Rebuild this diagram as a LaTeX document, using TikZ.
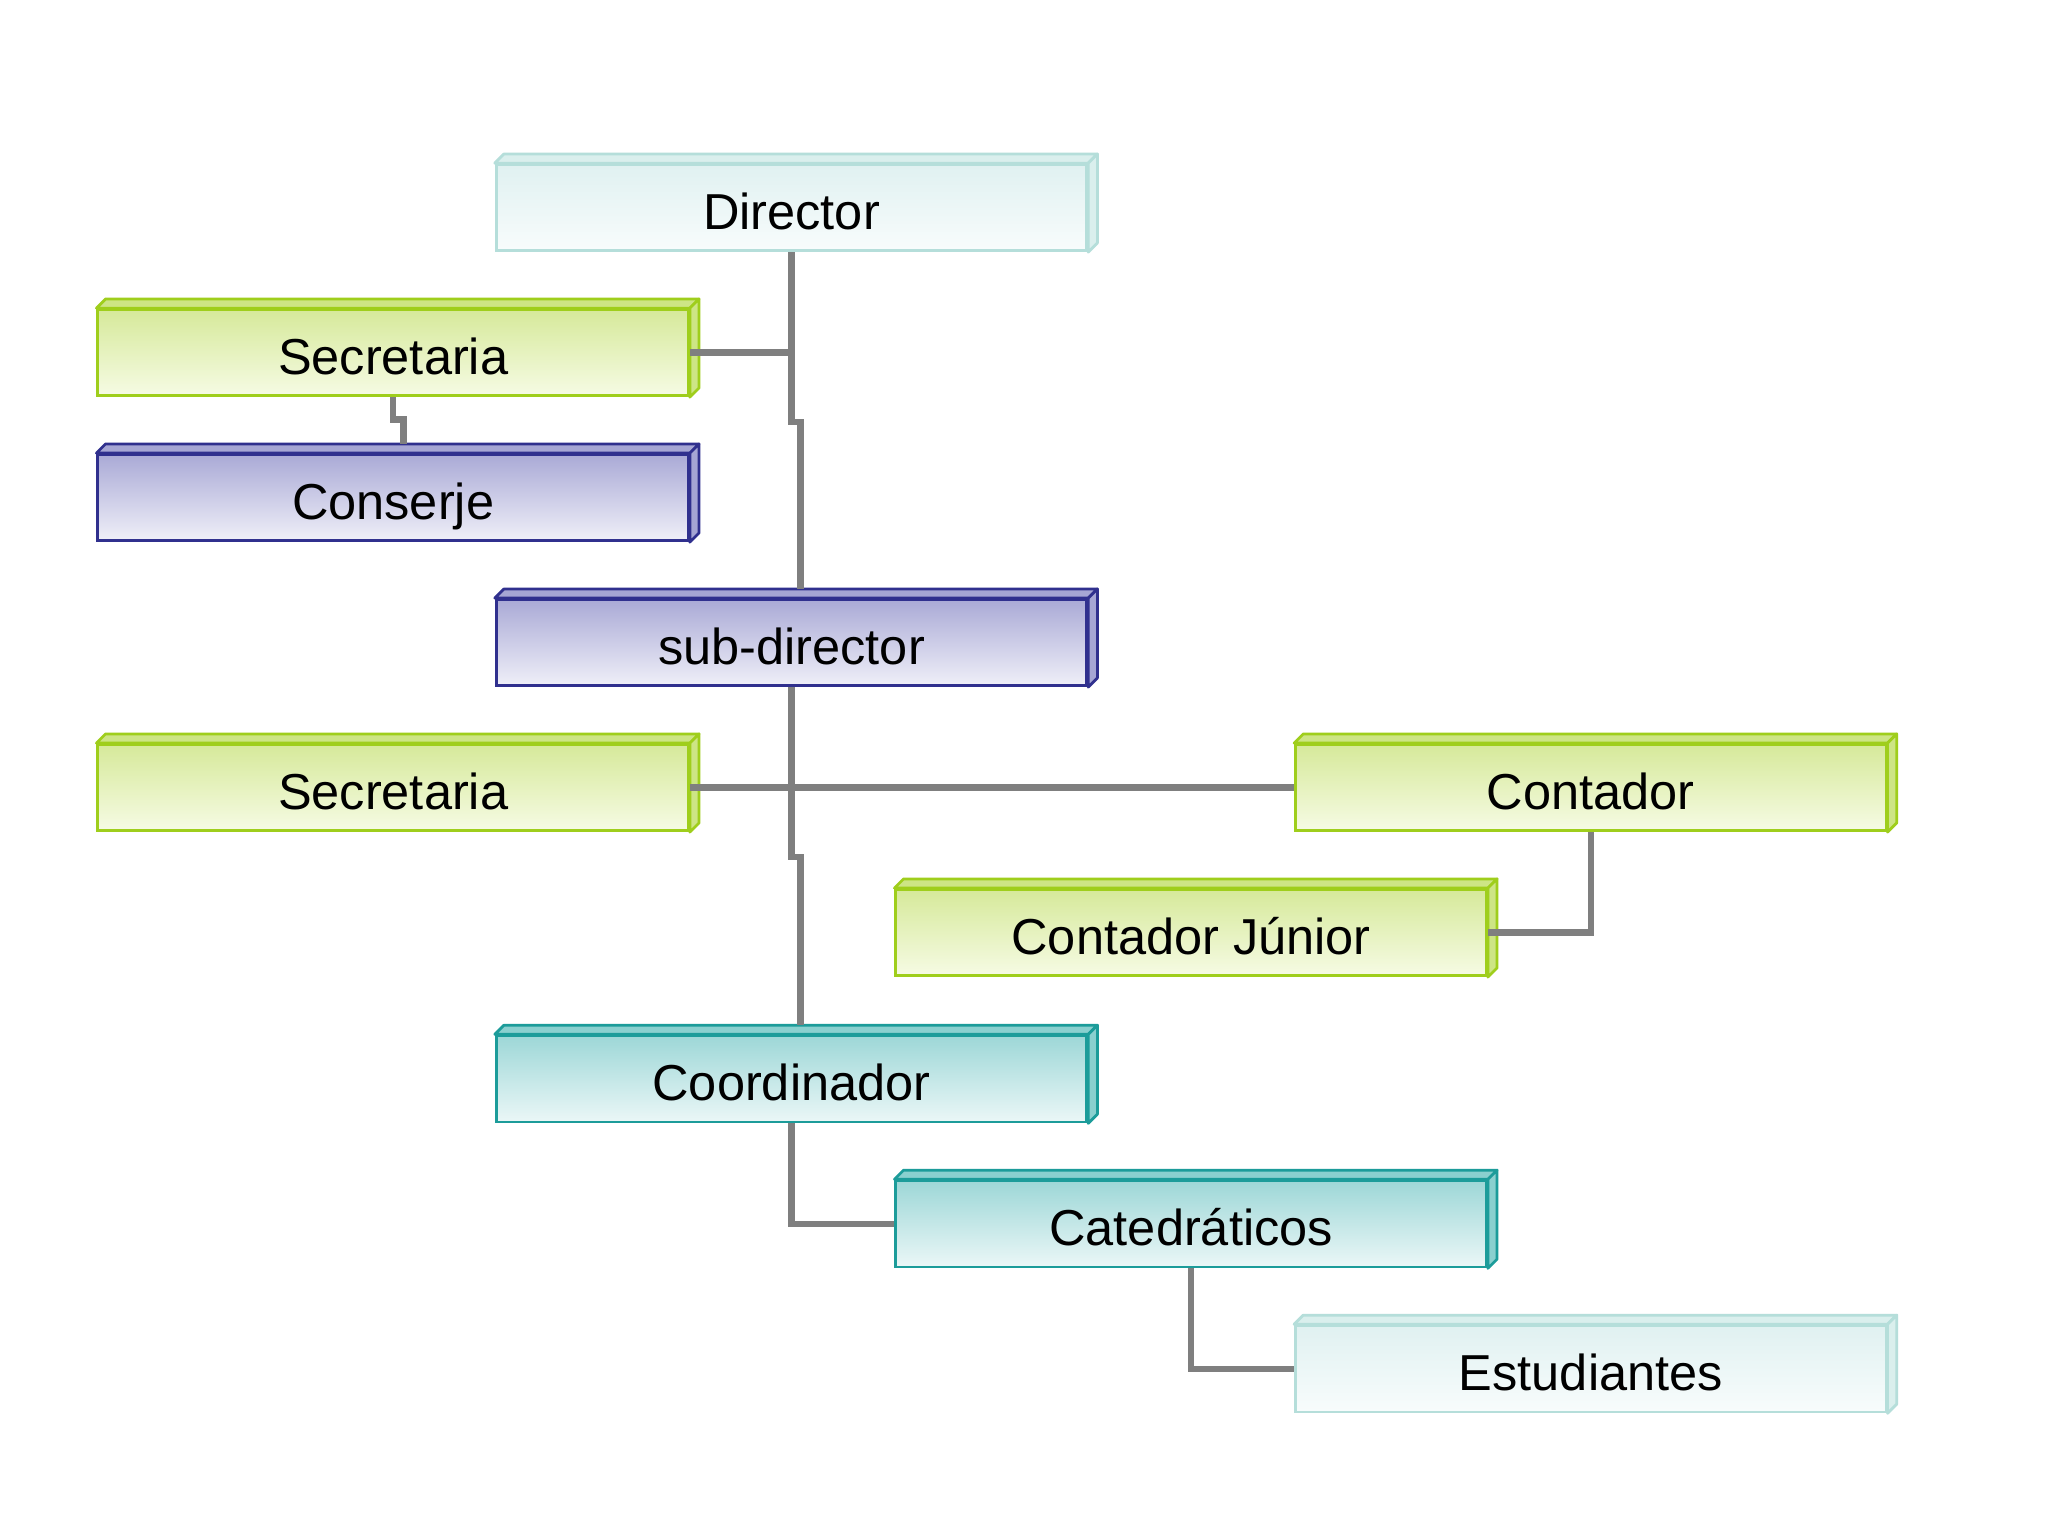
\documentclass[tikz,border=0pt]{standalone}
\usepackage{fontspec}
\setmainfont{Liberation Sans}
\usetikzlibrary{calc}
\definecolor{paleT}{HTML}{E0F1F1}
\definecolor{paleB}{HTML}{F8FCFC}
\definecolor{paleD}{HTML}{B5DEDA}
\definecolor{paleF}{HTML}{DAEFED}
\definecolor{grnT}{HTML}{D6E99A}
\definecolor{grnB}{HTML}{F6FBE4}
\definecolor{grnD}{HTML}{9FCE1C}
\definecolor{grnF}{HTML}{CDE585}
\definecolor{purT}{HTML}{AAAAD6}
\definecolor{purB}{HTML}{EFEFF8}
\definecolor{purD}{HTML}{30308E}
\definecolor{purF}{HTML}{A6A6D4}
\definecolor{tealT}{HTML}{9DD7D7}
\definecolor{tealB}{HTML}{EBF7F7}
\definecolor{tealD}{HTML}{1C9C9A}
\definecolor{tealF}{HTML}{8AD0CF}
\definecolor{connC}{HTML}{7F7F7F}
\newcommand\drawdepth[3]{%
  \filldraw[fill=#2, draw=#3, line width=0.6pt, line join=round]
    (#1.north west) -- ++(7,-7) -- ([shift={(7,-7)}]#1.north east) -- (#1.north east) -- cycle;
  \filldraw[fill=#2, draw=#3, line width=0.6pt, line join=round]
    (#1.north east) -- ++(7,-7) -- ([shift={(7,-7)}]#1.south east) -- (#1.south east) -- cycle;
}
\begin{document}
\begin{tikzpicture}[x=0.01cm, y=-0.01cm,
  orgbox/.style={rectangle, minimum width=45.2mm, minimum height=6.6mm, inner sep=0pt,
    line width=0.6pt, font=\fontsize{11}{13}\selectfont, text=black, shade,
    text height=9.4pt, text depth=0pt},
  pale/.style={orgbox, draw=paleD, top color=paleT, bottom color=paleB},
  grn/.style={orgbox, draw=grnD, top color=grnT, bottom color=grnB},
  pur/.style={orgbox, draw=purD, top color=purT, bottom color=purB},
  teal/.style={orgbox, draw=tealD, top color=tealT, bottom color=tealB},
  conn/.style={draw=connC, line width=1.4pt}]
\useasboundingbox[fill=white] (0,0) rectangle (1568,1176);

\node[pale] (dir)   at (606,159)  {Director};
\node[grn]  (sec1)  at (301,270)  {Secretaria};
\node[pur]  (con)   at (301,381)  {Conserje};
\node[pur]  (sub)   at (606,492)  {sub-director};
\node[grn]  (sec2)  at (301,603)  {Secretaria};
\node[grn]  (cont)  at (1218,603) {Contador};
\node[grn]  (cjr)   at (912,714)  {Contador Júnior};
\node[teal] (coord) at (606,826)  {Coordinador};
\node[teal] (cat)   at (912,937)  {Catedráticos};
\node[pale] (est)   at (1218,1048) {Estudiantes};

\drawdepth{dir}{paleF}{paleD}
\drawdepth{sec1}{grnF}{grnD}
\drawdepth{con}{purF}{purD}
\drawdepth{sub}{purF}{purD}
\drawdepth{sec2}{grnF}{grnD}
\drawdepth{cont}{grnF}{grnD}
\drawdepth{cjr}{grnF}{grnD}
\drawdepth{coord}{tealF}{tealD}
\drawdepth{cat}{tealF}{tealD}
\drawdepth{est}{paleF}{paleD}

% connectors
\draw[conn] (dir.south) -- ++(0,130) -- ++(7,0) coordinate (j1) -- ($(j1 |- sub.north)+(0,-7)$);
\draw[conn] (sec1.east) -- (sec1.east -| dir.south);
\draw[conn] (sec1.south) -- ++(0,17) -- ++(8,0) coordinate (j2) -- ($(j2 |- con.north)+(0,-7)$);
\draw[conn] (sub.south) -- ++(0,130) -- ++(7,0) coordinate (j3) -- ($(j3 |- coord.north)+(0,-7)$);
\draw[conn] (sec2.east) -- (cont.west);
\draw[conn] (cont.south) |- (cjr.east);
\draw[conn] (coord.south) |- (cat.west);
\draw[conn] (cat.south) |- (est.west);
\end{tikzpicture}
\end{document}
